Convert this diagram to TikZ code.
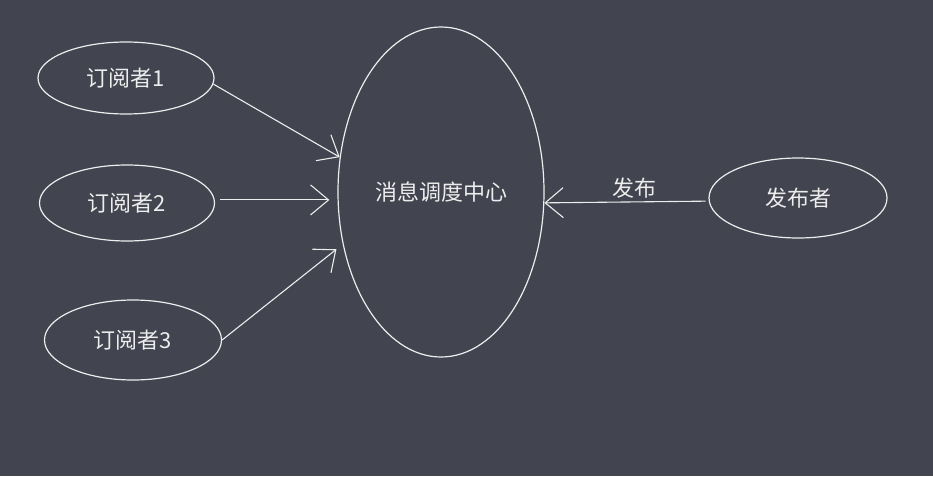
\documentclass[tikz,border=0pt]{standalone}
\usepackage{fontspec}
\setmainfont{Noto Sans CJK SC}
\usetikzlibrary{shapes.geometric,arrows.meta}
\definecolor{bgc}{HTML}{42444F}
\definecolor{ink}{HTML}{EDEDED}
\tikzset{
  oval/.style={ellipse, draw=ink, line width=1.2pt, text=ink, font=\fontsize{22}{25}\selectfont, inner sep=0pt},
  conn/.style={draw=ink, line width=1.1pt, -{Straight Barb[length=18pt,width=30pt,line width=1.1pt]}},
  lbl/.style={text=ink, font=\fontsize{22}{25}\selectfont, inner sep=1pt}
}
\begin{document}
\begin{tikzpicture}[x=1pt,y=-1pt]
\fill[bgc] (0,0) rectangle (933,476);
\useasboundingbox (0,0) rectangle (933,476);
\node[oval, minimum width=176pt, minimum height=72pt] (s1) at (126,78) {订阅者1};
\node[oval, minimum width=175pt, minimum height=76pt] (s2) at (127,203) {订阅者2};
\node[oval, minimum width=177pt, minimum height=80pt] (s3) at (133,340) {订阅者3};
\node[oval, minimum width=206pt, minimum height=330pt] (c) at (441,192) {消息调度中心};
\node[oval, minimum width=178pt, minimum height=80pt] (p) at (798,198) {发布者};
\draw[conn] (s1.-4) -- (c.161);
\draw[conn, shorten <=5pt, shorten >=8pt] (s2.2) -- (s2.2 -| c.west);
\draw[conn, shorten >=8pt] (s3.east) -- (c.208.5);
\draw[conn, shorten <=3pt] (p.182) -- (c.-6.5) node[lbl, pos=0.45, above=2pt] (l) {发布};
\end{tikzpicture}
\end{document}
